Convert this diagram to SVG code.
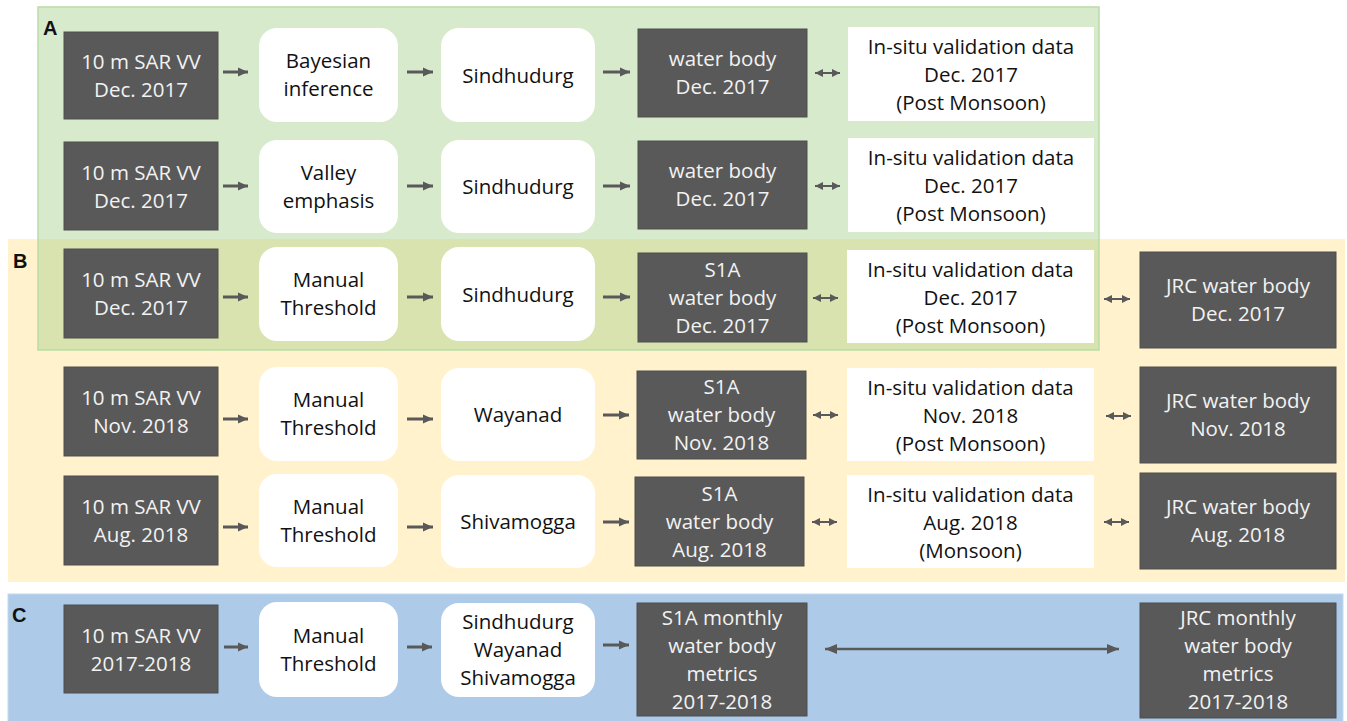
<svg xmlns="http://www.w3.org/2000/svg" width="1347" height="721" viewBox="0 0 1347 721">
<style>
  text { font-family: "Open Sans", "Noto Sans", "Liberation Sans", sans-serif; font-size: 20.5px; text-anchor: middle; }
  .dark rect { fill: #595959; stroke: #4f4f4f; stroke-width: 1; }
  .dark text { fill: #f2f2f2; }
  .light rect { fill: #ffffff; }
  .light text { fill: #111111; }
  text.lbl { font-family: "Liberation Sans", Arial, sans-serif; font-weight: bold; font-size: 20px; text-anchor: start; fill: #111; }
  .arr { stroke: #595959; stroke-width: 3; fill: none; marker-end: url(#ah); }
  .darr { stroke: #595959; stroke-width: 2; fill: none; marker-start: url(#dhs); marker-end: url(#dh); }
  .larr { stroke: #595959; stroke-width: 2.5; fill: none; marker-start: url(#lhs); marker-end: url(#lh); }
</style>
<defs>
  <marker id="ah" markerUnits="userSpaceOnUse" markerWidth="10" markerHeight="10" refX="10" refY="5" orient="auto">
    <path d="M0,0.5 L10,5 L0,9.5 z" fill="#595959"/>
  </marker>
  <marker id="dh" markerUnits="userSpaceOnUse" markerWidth="8" markerHeight="8" refX="8" refY="4" orient="auto">
    <path d="M0,0 L8,4 L0,8 z" fill="#595959"/>
  </marker>
  <marker id="dhs" markerUnits="userSpaceOnUse" markerWidth="8" markerHeight="8" refX="0" refY="4" orient="auto">
    <path d="M8,0 L0,4 L8,8 z" fill="#595959"/>
  </marker>
  <marker id="lh" markerUnits="userSpaceOnUse" markerWidth="12" markerHeight="10" refX="12" refY="5" orient="auto">
    <path d="M0,0 L12,5 L0,10 z" fill="#595959"/>
  </marker>
  <marker id="lhs" markerUnits="userSpaceOnUse" markerWidth="12" markerHeight="10" refX="0" refY="5" orient="auto">
    <path d="M12,0 L0,5 L12,10 z" fill="#595959"/>
  </marker>
</defs>
<rect width="1347" height="721" fill="#ffffff"/>

<!-- Panels -->
<g id="panelB">
  <rect x="8" y="239" width="1337" height="343" fill="#fff2cc"/>
</g>
<g id="panelC">
  <rect x="8" y="594" width="1335" height="130" fill="#adcbe8" stroke="#c3d9ef" stroke-width="1"/>
</g>
<g id="panelA">
  <rect x="38" y="7" width="1061" height="343" fill="#a9d18e" fill-opacity="0.45" stroke="#b9dba7" stroke-width="1.5"/>
</g>
<text class="lbl" x="43" y="35">A</text>
<text class="lbl" x="13" y="268">B</text>
<text class="lbl" x="12" y="622">C</text>

<!-- Row A1 -->
<g id="a1-sar" class="dark"><rect x="64" y="32" width="154" height="87"/><text x="141" y="69">10 m SAR VV</text><text x="141" y="97">Dec. 2017</text></g>
<g id="a1-method" class="light"><rect x="259" y="28" width="139" height="94" rx="18"/><text x="328.5" y="68">Bayesian</text><text x="328.5" y="96">inference</text></g>
<g id="a1-site" class="light"><rect x="441" y="28" width="154" height="94" rx="18"/><text x="518" y="83">Sindhudurg</text></g>
<g id="a1-water" class="dark"><rect x="638" y="29" width="169" height="88"/><text x="722.5" y="66">water body</text><text x="722.5" y="94">Dec. 2017</text></g>
<g id="a1-insitu" class="light"><rect x="848" y="27" width="246" height="94"/><text x="971" y="54">In-situ validation data</text><text x="971" y="82">Dec. 2017</text><text x="971" y="110">(Post Monsoon)</text></g>

<!-- Row A2 -->
<g id="a2-sar" class="dark"><rect x="64" y="142" width="154" height="88"/><text x="141" y="179.5">10 m SAR VV</text><text x="141" y="207.5">Dec. 2017</text></g>
<g id="a2-method" class="light"><rect x="259" y="140" width="139" height="93" rx="18"/><text x="328.5" y="179.5">Valley</text><text x="328.5" y="207.5">emphasis</text></g>
<g id="a2-site" class="light"><rect x="441" y="140" width="154" height="93" rx="18"/><text x="518" y="194">Sindhudurg</text></g>
<g id="a2-water" class="dark"><rect x="638" y="141" width="169" height="88"/><text x="722.5" y="178">water body</text><text x="722.5" y="206">Dec. 2017</text></g>
<g id="a2-insitu" class="light"><rect x="848" y="138" width="246" height="94"/><text x="971" y="165">In-situ validation data</text><text x="971" y="193">Dec. 2017</text><text x="971" y="221">(Post Monsoon)</text></g>

<!-- Row B1 -->
<g id="b1-sar" class="dark"><rect x="64" y="249" width="154" height="89"/><text x="141" y="287">10 m SAR VV</text><text x="141" y="315">Dec. 2017</text></g>
<g id="b1-method" class="light"><rect x="259" y="247" width="139" height="94" rx="18"/><text x="328.5" y="287">Manual</text><text x="328.5" y="315">Threshold</text></g>
<g id="b1-site" class="light"><rect x="441" y="247" width="154" height="94" rx="18"/><text x="518" y="302">Sindhudurg</text></g>
<g id="b1-water" class="dark"><rect x="638" y="253" width="169" height="89"/><text x="722.5" y="277">S1A</text><text x="722.5" y="305">water body</text><text x="722.5" y="333">Dec. 2017</text></g>
<g id="b1-insitu" class="light"><rect x="847" y="250" width="247" height="93"/><text x="970.5" y="277">In-situ validation data</text><text x="970.5" y="305">Dec. 2017</text><text x="970.5" y="333">(Post Monsoon)</text></g>
<g id="b1-jrc" class="dark"><rect x="1140" y="252" width="196" height="96"/><text x="1238" y="293">JRC water body</text><text x="1238" y="321">Dec. 2017</text></g>

<!-- Row B2 -->
<g id="b2-sar" class="dark"><rect x="64" y="367" width="154" height="89"/><text x="141" y="405">10 m SAR VV</text><text x="141" y="433">Nov. 2018</text></g>
<g id="b2-method" class="light"><rect x="259" y="367" width="139" height="94" rx="18"/><text x="328.5" y="407">Manual</text><text x="328.5" y="435">Threshold</text></g>
<g id="b2-site" class="light"><rect x="441" y="368" width="154" height="93" rx="18"/><text x="518" y="422">Wayanad</text></g>
<g id="b2-water" class="dark"><rect x="637" y="371" width="169" height="88"/><text x="721.5" y="394">S1A</text><text x="721.5" y="422">water body</text><text x="721.5" y="450">Nov. 2018</text></g>
<g id="b2-insitu" class="light"><rect x="847" y="368" width="247" height="93"/><text x="970.5" y="395">In-situ validation data</text><text x="970.5" y="423">Nov. 2018</text><text x="970.5" y="451">(Post Monsoon)</text></g>
<g id="b2-jrc" class="dark"><rect x="1140" y="367" width="196" height="96"/><text x="1238" y="408">JRC water body</text><text x="1238" y="436">Nov. 2018</text></g>

<!-- Row B3 -->
<g id="b3-sar" class="dark"><rect x="64" y="476" width="154" height="89"/><text x="141" y="514">10 m SAR VV</text><text x="141" y="542">Aug. 2018</text></g>
<g id="b3-method" class="light"><rect x="259" y="474" width="139" height="93" rx="18"/><text x="328.5" y="514">Manual</text><text x="328.5" y="542">Threshold</text></g>
<g id="b3-site" class="light"><rect x="441" y="475" width="154" height="93" rx="18"/><text x="518" y="529">Shivamogga</text></g>
<g id="b3-water" class="dark"><rect x="635" y="477" width="169" height="89"/><text x="719.5" y="501">S1A</text><text x="719.5" y="529">water body</text><text x="719.5" y="557">Aug. 2018</text></g>
<g id="b3-insitu" class="light"><rect x="847" y="475" width="247" height="93"/><text x="970.5" y="502">In-situ validation data</text><text x="970.5" y="530">Aug. 2018</text><text x="970.5" y="558">(Monsoon)</text></g>
<g id="b3-jrc" class="dark"><rect x="1140" y="473" width="196" height="96"/><text x="1238" y="514">JRC water body</text><text x="1238" y="542">Aug. 2018</text></g>

<!-- Row C -->
<g id="c-sar" class="dark"><rect x="64" y="605" width="154" height="88"/><text x="141" y="642.5">10 m SAR VV</text><text x="141" y="670.5">2017-2018</text></g>
<g id="c-method" class="light"><rect x="259" y="602" width="139" height="95" rx="18"/><text x="328.5" y="642.5">Manual</text><text x="328.5" y="670.5">Threshold</text></g>
<g id="c-site" class="light"><rect x="441" y="603" width="154" height="94" rx="18"/><text x="518" y="629">Sindhudurg</text><text x="518" y="657">Wayanad</text><text x="518" y="685">Shivamogga</text></g>
<g id="c-s1a" class="dark"><rect x="637" y="603" width="170" height="113"/><text x="722" y="625">S1A monthly</text><text x="722" y="653">water body</text><text x="722" y="681">metrics</text><text x="722" y="709">2017-2018</text></g>
<g id="c-jrc" class="dark"><rect x="1140" y="603" width="196" height="115"/><text x="1238" y="625">JRC monthly</text><text x="1238" y="653">water body</text><text x="1238" y="681">metrics</text><text x="1238" y="709">2017-2018</text></g>

<!-- Connectors -->
<g id="connectors">
  <line class="arr" x1="223" y1="72" x2="248" y2="72"/>
  <line class="arr" x1="407" y1="72" x2="433" y2="72"/>
  <line class="arr" x1="603" y1="72" x2="630" y2="72"/>
  <line class="darr" x1="815" y1="73" x2="840" y2="73"/>

  <line class="arr" x1="223" y1="186" x2="248" y2="186"/>
  <line class="arr" x1="407" y1="186" x2="433" y2="186"/>
  <line class="arr" x1="603" y1="186" x2="630" y2="186"/>
  <line class="darr" x1="815" y1="186" x2="840" y2="186"/>

  <line class="arr" x1="223" y1="297" x2="248" y2="297"/>
  <line class="arr" x1="407" y1="297" x2="433" y2="297"/>
  <line class="arr" x1="603" y1="297" x2="630" y2="297"/>
  <line class="darr" x1="813" y1="298" x2="838" y2="298"/>
  <line class="darr" x1="1104" y1="299" x2="1130" y2="299"/>

  <line class="arr" x1="223" y1="419" x2="248" y2="419"/>
  <line class="arr" x1="407" y1="419" x2="433" y2="419"/>
  <line class="arr" x1="603" y1="415" x2="629" y2="415"/>
  <line class="darr" x1="813" y1="415" x2="838" y2="415"/>
  <line class="darr" x1="1106" y1="416" x2="1131" y2="416"/>

  <line class="arr" x1="223" y1="527" x2="248" y2="527"/>
  <line class="arr" x1="407" y1="527" x2="433" y2="527"/>
  <line class="arr" x1="603" y1="522" x2="629" y2="522"/>
  <line class="darr" x1="812" y1="522" x2="837" y2="522"/>
  <line class="darr" x1="1104" y1="522" x2="1129" y2="522"/>

  <line class="arr" x1="224" y1="647" x2="248" y2="647"/>
  <line class="arr" x1="407" y1="647" x2="432" y2="647"/>
  <line class="arr" x1="603" y1="645" x2="629" y2="645"/>
  <line class="larr" x1="825" y1="649" x2="1119" y2="649"/>
</g>
</svg>
